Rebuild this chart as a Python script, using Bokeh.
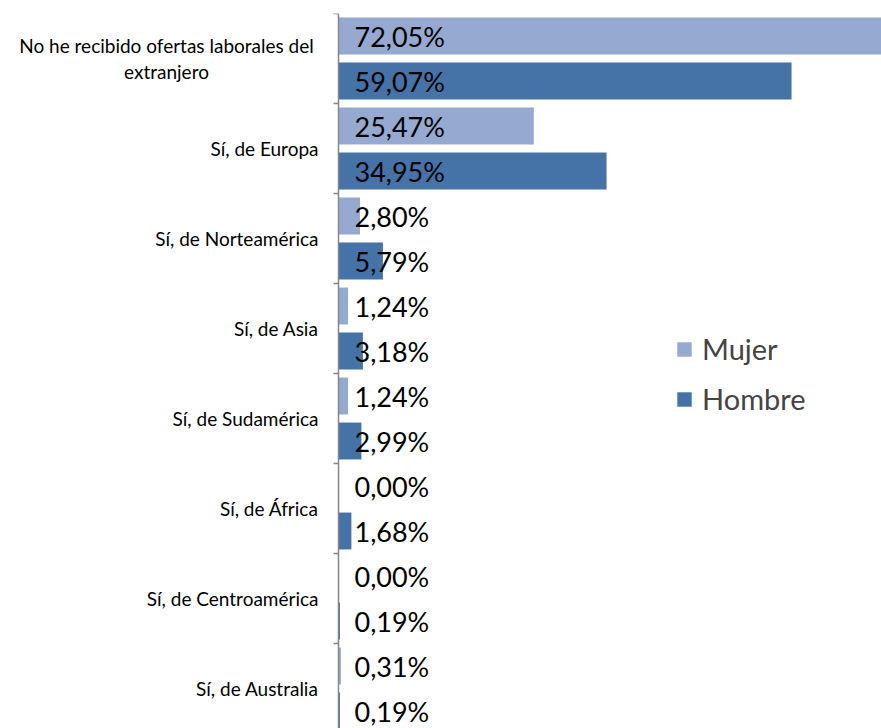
from bokeh.plotting import figure
from bokeh.models import Range1d, FixedTicker, ColumnDataSource, Legend, LegendItem
from bokeh.core.properties import value
from bokeh.embed import file_html
from bokeh.resources import INLINE

categories = [
    "No he recibido ofertas laborales del\nextranjero",
    "Sí, de Europa",
    "Sí, de Norteamérica",
    "Sí, de Asia",
    "Sí, de Sudamérica",
    "Sí, de África",
    "Sí, de Centroamérica",
    "Sí, de Australia",
]
mujer = [72.05, 25.47, 2.80, 1.24, 1.24, 0.00, 0.00, 0.31]
hombre = [59.07, 34.95, 5.79, 3.18, 2.99, 1.68, 0.19, 0.19]
series_names = ["Mujer", "Hombre"]
colors = ["#95A9D1", "#4572A7"]

FONT = "Lato"
n = len(categories)
centers = [i + 0.5 for i in range(n)]

W, H = 881, 728
AXIS_PX = 338          # pixel position of the value axis (x = 0)
X_END = 70.8
px_per_unit = (W - AXIS_PX) / X_END

p = figure(width=W, height=H,
           x_range=Range1d(-AXIS_PX / px_per_unit, X_END),
           y_range=Range1d(715 / 90, 0),
           output_backend="svg", toolbar_location=None,
           x_axis_location=None,
           min_border_left=0, min_border_right=0,
           min_border_top=13, min_border_bottom=0)
p.outline_line_color = None
p.grid.visible = False
p.background_fill_color = "white"

def fmt(v):
    return f"{v:.2f}%".replace(".", ",")

renderers = []
for k, (vals, name, col) in enumerate(zip([mujer, hombre], series_names, colors)):
    ys = [i + 0.25 + 0.5 * k for i in range(n)]
    src = ColumnDataSource(dict(y=ys, right=vals, lab=[fmt(v) for v in vals]))
    r = p.hbar(y="y", left=0, right="right", height=0.41, source=src,
               fill_color=col, line_color=None)
    renderers.append((name, r))
    p.text(x=0, y="y", text="lab", source=src, x_offset=16,
           text_align="left", text_baseline="middle",
           text_font=value(FONT), text_font_size="27px", text_color="#000000")

# category axis placed at x = 0 (ticks at category boundaries)
ax = p.yaxis[0]
ax.fixed_location = 0
ax.ticker = FixedTicker(ticks=[], minor_ticks=list(range(n + 1)))
ax.major_tick_out = 0
ax.major_tick_in = 0
ax.minor_tick_out = 5
ax.minor_tick_in = 0
ax.axis_line_color = "#868686"
ax.axis_line_width = 1.5
ax.minor_tick_line_color = "#868686"
ax.minor_tick_line_width = 1.5

# category labels
single = [(c, t) for c, t in zip(centers, categories) if "\n" not in t]
multi = [(c, t) for c, t in zip(centers, categories) if "\n" in t]
p.text(x=0, y=[c for c, _ in single], text=[t for _, t in single],
       x_offset=-20, text_align="right", text_baseline="middle",
       text_font=value(FONT), text_font_size="19px", text_color="#000000")
p.text(x=0, y=[c for c, _ in multi], text=[t for _, t in multi],
       x_offset=-172, text_align="center", text_baseline="middle",
       text_line_height=1.15,
       text_font=value(FONT), text_font_size="19px", text_color="#000000")

legend = Legend(items=[LegendItem(label=nm, renderers=[r]) for nm, r in renderers],
                location=(675, 312), orientation="vertical",
                label_text_font=FONT, label_text_font_size="29px",
                glyph_width=18, glyph_height=18, label_standoff=9,
                spacing=15, padding=0, margin=0,
                border_line_color=None, background_fill_alpha=0)
p.add_layout(legend)

open("out.html", "w").write(file_html(p, INLINE))
